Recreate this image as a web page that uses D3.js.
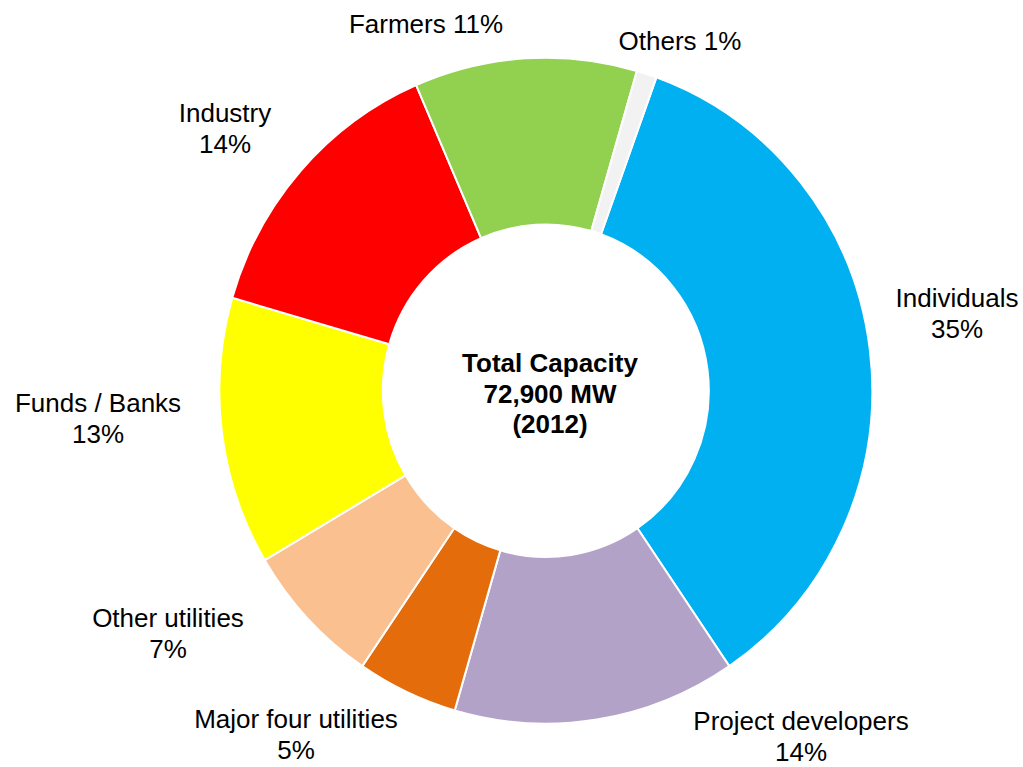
<!DOCTYPE html>
<html>
<head>
<meta charset="utf-8">
<script src="https://cdn.jsdelivr.net/npm/d3@7"></script>
<style>
  html, body { margin: 0; padding: 0; background: #fff; }
  svg { display: block; }
  text { font-family: "Liberation Sans", Arial, sans-serif; fill: #000; }
</style>
</head>
<body>
<svg id="chart" width="1023" height="767"></svg>
<script>
// Ownership of installed capacity (share, %), clockwise from the top-right
const categories = ["Individuals", "Project developers", "Major four utilities", "Other utilities",
                    "Funds / Banks", "Industry", "Farmers", "Others"];
const shares = [35, 14, 5, 7, 13, 14, 11, 1];
const colors = ["#00B0F0", "#B3A2C7", "#E46C0A", "#FAC090", "#FFFF00", "#FF0000", "#92D050", "#F2F2F2"];
const centerLines = ["Total Capacity", "72,900 MW", "(2012)"];

// Label layout: text lines and anchor positions per category
const labelLines = [
  ["Individuals", "35%"],
  ["Project developers", "14%"],
  ["Major four utilities", "5%"],
  ["Other utilities", "7%"],
  ["Funds / Banks", "13%"],
  ["Industry", "14%"],
  ["Farmers 11%"],
  ["Others 1%"]
];
const labelPos = [
  [957, 307], [801, 730], [296, 728], [168, 627],
  [98, 412], [225, 122], [426, 33], [680, 50]
];

const svg = d3.select("#chart");
const cx = 545.8, cy = 390.7;
const outerR = 326.5, innerR = 163;
const yStretch = 333 / 326.5;
const startOffset = 19.8 * Math.PI / 180;

const data = categories.map((c, i) => ({ name: c, value: shares[i], color: colors[i] }));

const pie = d3.pie()
  .value(d => d.value)
  .sort(null)
  .startAngle(startOffset)
  .endAngle(startOffset + 2 * Math.PI);

const arc = d3.arc().innerRadius(innerR).outerRadius(outerR);

const g = svg.append("g")
  .attr("transform", `translate(${cx},${cy}) scale(1,${yStretch})`);

g.selectAll("path")
  .data(pie(data))
  .join("path")
  .attr("d", arc)
  .attr("fill", d => d.data.color)
  .attr("stroke", "#fff")
  .attr("stroke-width", 2)
  .attr("vector-effect", "non-scaling-stroke");

// Category labels
const lineGap = 30.5;
labelLines.forEach((lines, i) => {
  const t = svg.append("text")
    .attr("text-anchor", "middle")
    .attr("font-size", 26)
    .attr("x", labelPos[i][0])
    .attr("y", labelPos[i][1]);
  lines.forEach((ln, j) => {
    t.append("tspan")
      .attr("x", labelPos[i][0])
      .attr("dy", j === 0 ? 0 : lineGap)
      .text(ln);
  });
});

// Centre title
const ct = svg.append("text")
  .attr("text-anchor", "middle")
  .attr("font-size", 26)
  .attr("font-weight", "bold")
  .attr("x", 550)
  .attr("y", 372);
centerLines.forEach((ln, j) => {
  ct.append("tspan").attr("x", 550).attr("dy", j === 0 ? 0 : 30.5).text(ln);
});
</script>
</body>
</html>
